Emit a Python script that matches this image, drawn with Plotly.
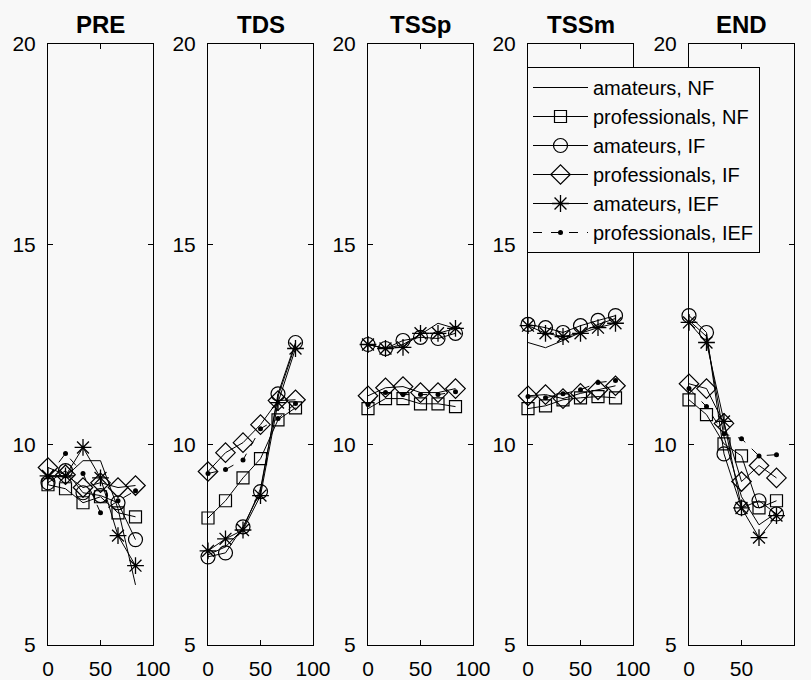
import plotly.graph_objects as go

# ---- data ----
phases = ["PRE", "TDS", "TSSp", "TSSm", "END"]
x_vals = [0, 16.67, 33.33, 50, 66.67, 83.33]
series_names = ["amateurs, NF", "professionals, NF", "amateurs, IF",
                "professionals, IF", "amateurs, IEF", "professionals, IEF"]

amateurs_NF = {
    "PRE":  [9.2, 9.2, 9.6, 9.6, 8.4, 6.5],
    "TDS":  [7.25, 7.45, 7.9, 8.9, 11.2, 12.5],
    "TSSp": [12.5, 12.4, 12.5, 12.75, 13.03, 12.9],
    "TSSm": [12.55, 12.42, 12.6, 12.8, 13.0, 13.15],
    "END":  [13.1, 12.7, 10.2, 8.7, 8.0, 8.3],
}
professionals_NF = {
    "PRE":  [9.0, 8.9, 8.55, 8.7, 8.3, 8.2],
    "TDS":  [8.17, 8.6, 9.17, 9.65, 10.62, 10.92],
    "TSSp": [10.9, 11.15, 11.15, 11.02, 11.02, 10.95],
    "TSSm": [10.9, 10.97, 11.12, 11.17, 11.2, 11.17],
    "END":  [11.12, 10.75, 10.02, 9.72, 8.42, 8.6],
}
amateurs_IF = {
    "PRE":  [9.05, 9.35, 8.8, 8.73, 8.55, 7.63],
    "TDS":  [7.2, 7.3, 7.95, 8.83, 11.27, 12.55],
    "TSSp": [12.5, 12.4, 12.6, 12.68, 12.65, 12.78],
    "TSSm": [13.0, 12.92, 12.8, 12.97, 13.1, 13.22],
    "END":  [13.22, 12.8, 9.77, 8.42, 8.6, 8.27],
}
professionals_IF = {
    "PRE":  [9.43, 9.25, 8.93, 9.05, 8.93, 8.98],
    "TDS":  [9.33, 9.8, 10.05, 10.5, 11.1, 11.12],
    "TSSp": [11.22, 11.42, 11.45, 11.3, 11.3, 11.4],
    "TSSm": [11.22, 11.25, 11.15, 11.28, 11.37, 11.47],
    "END":  [11.52, 11.4, 10.53, 9.08, 9.48, 9.17],
}
amateurs_IEF = {
    "PRE":  [9.22, 9.22, 9.93, 9.17, 7.73, 6.98],
    "TDS":  [7.35, 7.65, 7.87, 8.73, 11.05, 12.4],
    "TSSp": [12.5, 12.4, 12.43, 12.78, 12.78, 12.9],
    "TSSm": [12.97, 12.78, 12.7, 12.78, 12.92, 13.03],
    "END":  [13.05, 12.55, 10.58, 8.42, 7.68, 8.23],
}
professionals_IEF = {
    "PRE":  [9.2, 9.78, 9.28, 8.3, 8.6, 8.85],
    "TDS":  [9.28, 9.38, 9.62, 10.4, 10.65, 11.03],
    "TSSp": [11.0, 11.3, 11.25, 11.25, 11.25, 11.32],
    "TSSm": [11.2, 11.17, 11.27, 11.37, 11.55, 11.6],
    "END":  [11.4, 10.95, 10.27, 10.15, 9.72, 9.75],
}

x_ticks = [0, 50, 100]
y_ticks = [5, 10, 15, 20]

all_series = [amateurs_NF, professionals_NF, amateurs_IF,
              professionals_IF, amateurs_IEF, professionals_IEF]
styles = [
    dict(mode="lines", line=dict(color="black", width=1)),
    dict(mode="lines+markers", line=dict(color="black", width=1),
         marker=dict(symbol="square-open", size=12, color="black", line=dict(width=1.2))),
    dict(mode="lines+markers", line=dict(color="black", width=1),
         marker=dict(symbol="circle-open", size=14, color="black", line=dict(width=1.2))),
    dict(mode="lines+markers", line=dict(color="black", width=1),
         marker=dict(symbol="diamond-open", size=15, color="black", line=dict(width=1.2))),
    dict(mode="lines+markers", line=dict(color="black", width=1),
         marker=dict(symbol="asterisk-open", size=14, color="black", line=dict(width=1.3))),
    dict(mode="lines+markers", line=dict(color="black", width=1, dash="dash"),
         marker=dict(symbol="circle", size=5, color="black")),
]

FONT = "Liberation Sans, Arial, Helvetica, sans-serif"
W, H = 811, 680
lefts = [48, 208, 368, 528, 689]
pw = 105
top_px, bot_px = 44, 645
y_dom = [1 - bot_px / H, 1 - top_px / H]

fig = go.Figure()
layout = {}
annotations = []
for i, ph in enumerate(phases):
    suffix = "" if i == 0 else str(i + 1)
    xa = "x" + suffix
    ya = "y" + suffix
    for j, (s, st) in enumerate(zip(all_series, styles)):
        fig.add_trace(go.Scatter(
            x=x_vals, y=s[ph], name=series_names[j], xaxis=xa, yaxis=ya,
            legendgroup=series_names[j], showlegend=(i == 0),
            cliponaxis=False, **st))
    axis_common = dict(showline=True, linecolor="black", linewidth=1, mirror="ticks",
                       ticks="inside", ticklen=5, tickwidth=1, tickcolor="black",
                       showgrid=False, zeroline=False, automargin=False,
                       tickfont=dict(family=FONT, size=21, color="black"))
    layout["xaxis" + suffix] = dict(domain=[lefts[i] / W, (lefts[i] + pw) / W],
                                    range=[0, 100], tickvals=x_ticks, anchor=ya,
                                    ticklabelstandoff=5, **axis_common)
    layout["yaxis" + suffix] = dict(domain=y_dom, range=[5, 20], tickvals=y_ticks,
                                    anchor=xa, ticklabelstandoff=7, **axis_common)
    annotations.append(dict(text="<b>" + ph + "</b>", xref="paper", yref="paper",
                            x=(lefts[i] + pw / 2) / W, y=1 - 25 / H,
                            xanchor="center", yanchor="middle", showarrow=False,
                            font=dict(family=FONT, size=24, color="black")))

fig.update_layout(
    **layout,
    annotations=annotations,
    width=W, height=H,
    margin=dict(l=0, r=0, t=0, b=0, autoexpand=False),
    paper_bgcolor="#f8f8f8", plot_bgcolor="#f8f8f8",
    font=dict(family=FONT, color="black"),
    legend=dict(x=527 / W, y=1 - 67 / H, xanchor="left", yanchor="top",
                bgcolor="#f8f8f8", bordercolor="black", borderwidth=1,
                font=dict(family=FONT, size=20, color="black"),
                itemwidth=55, tracegroupgap=0),
)

fig.write_html("out.html")
